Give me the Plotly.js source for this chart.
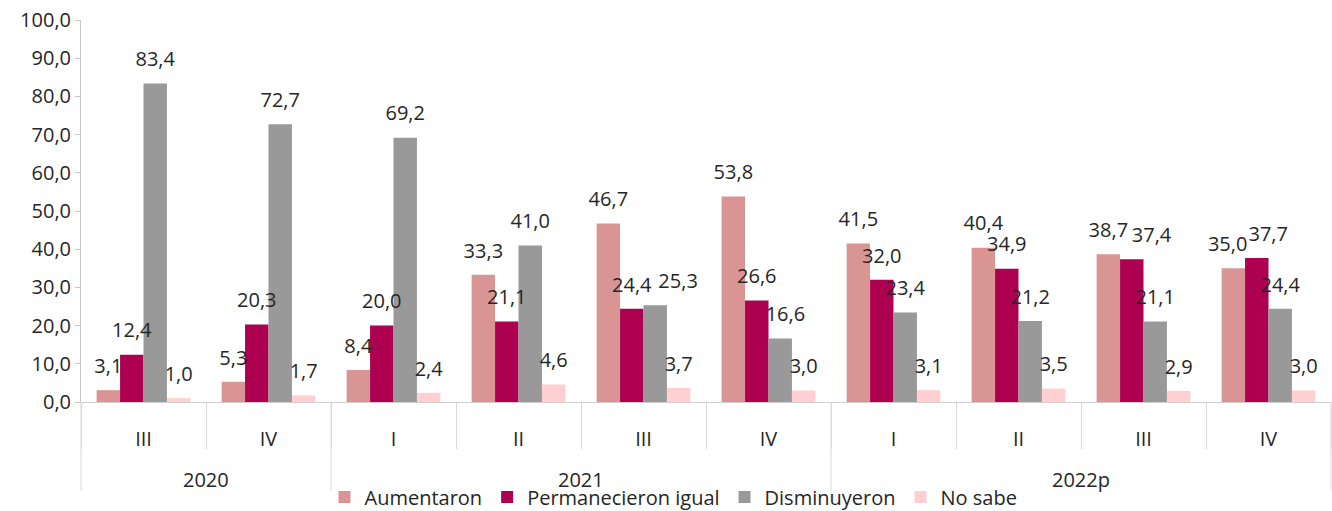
<!DOCTYPE html>
<html><head><meta charset="utf-8">
<script src="https://cdn.plot.ly/plotly-3.0.1.min.js"></script>
<style>html,body{margin:0;padding:0;background:#fff}#chart{width:1332px;height:511px}</style>
</head><body><div id="chart"></div>
<script>
const years = ['2020','2020','2021','2021','2021','2021','2022p','2022p','2022p','2022p'];
const quarters = ['III','IV','I','II','III','IV','I','II','III','IV'];
const seriesNames = ['Aumentaron','Permanecieron igual','Disminuyeron','No sabe'];
const aumentaron = [3.1,5.3,8.4,33.3,46.7,53.8,41.5,40.4,38.7,35.0];
const permanecieron = [12.4,20.3,20.0,21.1,24.4,26.6,32.0,34.9,37.4,37.7];
const disminuyeron = [83.4,72.7,69.2,41.0,25.3,16.6,23.4,21.2,21.1,24.4];
const noSabe = [1.0,1.7,2.4,4.6,3.7,3.0,3.1,3.5,2.9,3.0];
const yTicks = [0,10,20,30,40,50,60,70,80,90,100];

const seriesValues = [aumentaron, permanecieron, disminuyeron, noSabe];
const colors = ['#D99594','#AE0050','#999999','#FFCFD1'];
const FONT = 'Open Sans, Noto Sans, sans-serif';
const TXT = '#262626';
const SEP = '#d9d9d9';

// label nudges (styling only): [series, index, spacer string before, after]
const FS = '\u2007', NB = '\u00A0';
const labelNudges = [
  [2, 4, FS + FS + FS + FS, ''],
  [1, 8, FS + FS + FS + NB, ''],
  [1, 9, FS + FS, ''],
  [0, 9, '', FS],
  [2, 5, NB + NB, '']
];

const cats = years.map((y, i) => y + ' ' + quarters[i]);
const n = cats.length;

const traces = [];
seriesValues.forEach((vals, i) => {
  traces.push({
    type: 'bar', name: seriesNames[i], x: cats, y: vals,
    marker: {color: colors[i]}, hoverinfo: 'skip', textposition: 'none'
  });
});
seriesValues.forEach((vals, i) => {
  const txt = vals.map((v, j) => {
    const s = v.toFixed(1).replace('.', ',');
    const nd = labelNudges.find(a => a[0] === i && a[1] === j);
    return nd ? nd[2] + s + nd[3] : s;
  });
  traces.push({
    type: 'scatter', mode: 'markers+text', x: cats, y: vals,
    text: txt,
    textposition: 'top center',
    textfont: {family: FONT, size: 20, color: TXT},
    marker: {size: 18, opacity: 0},
    showlegend: false, hoverinfo: 'skip', cliponaxis: false
  });
});

const groups = [];
years.forEach((y, i) => {
  if (!groups.length || groups[groups.length - 1].year !== y) groups.push({year: y, start: i, end: i});
  else groups[groups.length - 1].end = i;
});
const annotations = groups.map(g => ({
  xref: 'paper', yref: 'paper', x: (g.start + g.end + 1) / 2 / n, y: -0.204,
  xanchor: 'center', yanchor: 'middle', showarrow: false, text: g.year,
  font: {family: FONT, size: 20, color: TXT}
}));
const bounds = [0].concat(groups.map(g => g.end + 1));
const shapes = bounds.map(b => ({
  type: 'line', xref: 'paper', yref: 'paper', x0: b / n, x1: b / n, y0: 0, y1: -0.232,
  line: {color: SEP, width: 1}
}));

const layout = {
  width: 1332, height: 511,
  margin: {l: 81, r: 1, t: 20, b: 109, autoexpand: false},
  separators: ',.',
  paper_bgcolor: '#fff', plot_bgcolor: '#fff',
  font: {family: FONT, size: 20, color: TXT},
  barmode: 'group', bargap: 0.25, bargroupgap: 0,
  scattermode: 'group', scattergap: 0.25,
  xaxis: {
    type: 'category', tickvals: cats, ticktext: quarters,
    showline: true, linecolor: '#cfcfcf', linewidth: 1,
    ticks: 'outside', tickson: 'boundaries', ticklen: 46, tickcolor: SEP, tickwidth: 1,
    ticklabelstandoff: 19,
    showgrid: false, zeroline: false,
    tickfont: {family: FONT, size: 20, color: TXT}
  },
  yaxis: {
    range: [0, 100], tickvals: yTicks, tickformat: '.1f',
    showline: true, linecolor: '#c8c8c8', linewidth: 1,
    ticks: 'outside', ticklen: 5, tickcolor: '#c8c8c8',
    showgrid: false, zeroline: false,
    tickfont: {family: FONT, size: 20, color: TXT}
  },
  annotations: annotations,
  shapes: shapes,
  showlegend: true,
  legend: {
    orientation: 'h', x: 0.474, xanchor: 'center', y: -0.2487, yanchor: 'middle',
    font: {family: FONT, size: 20, color: TXT}, bgcolor: 'rgba(0,0,0,0)'
  }
};

Plotly.newPlot('chart', traces, layout, {displayModeBar: false, staticPlot: true});
</script>
</body></html>
